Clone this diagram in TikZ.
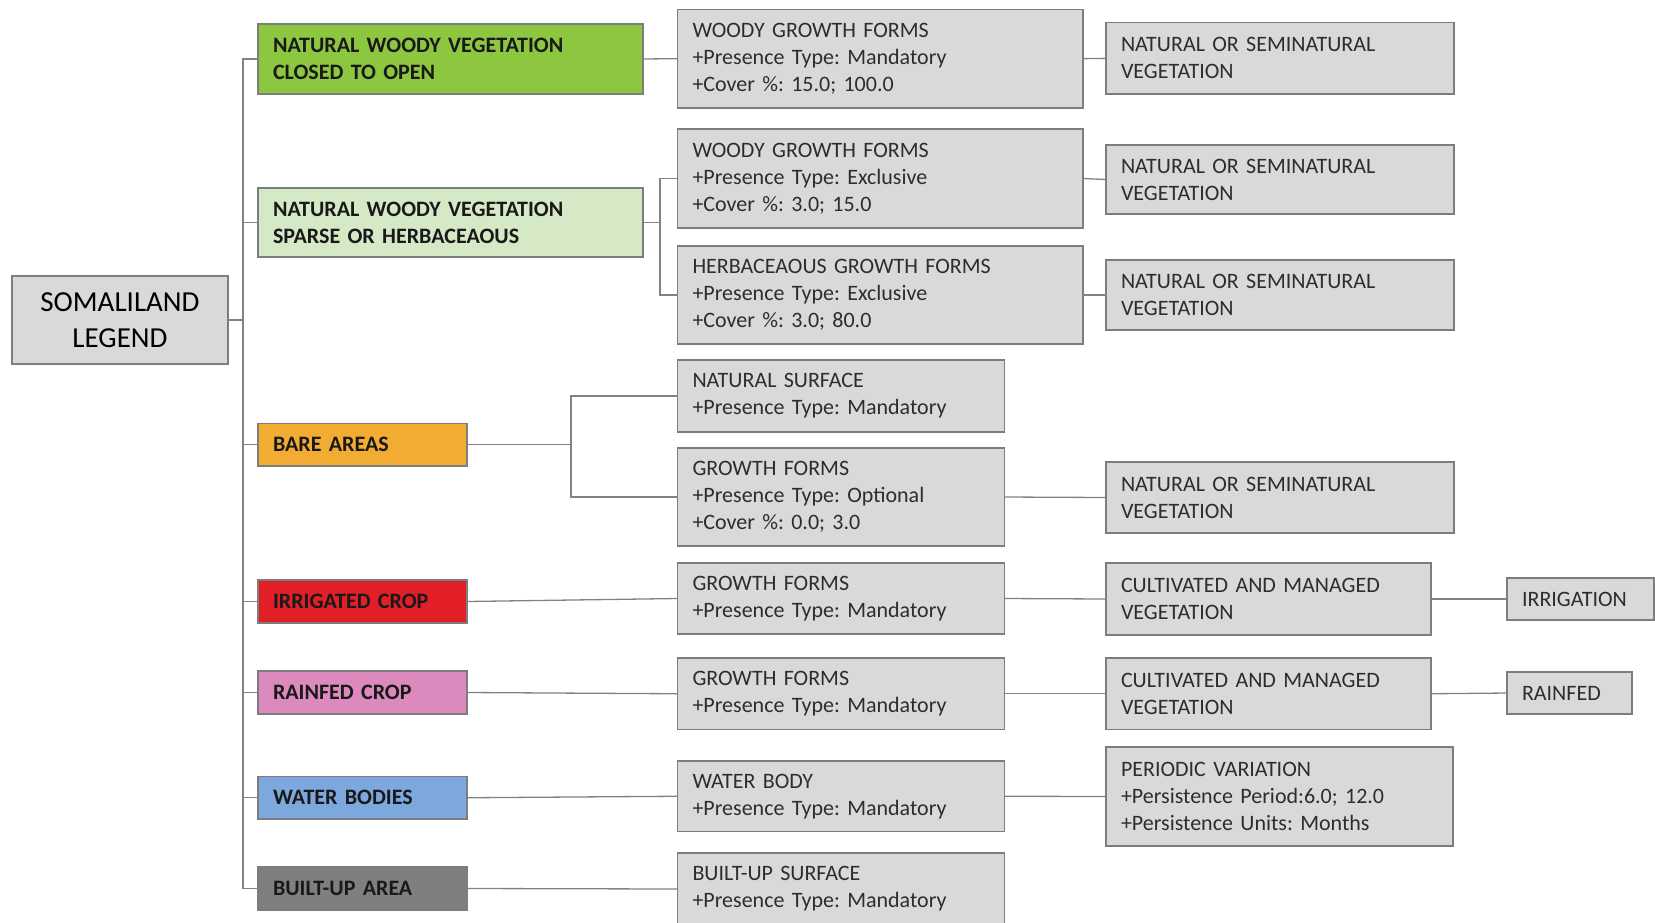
\documentclass[tikz,border=0pt]{standalone}
\usepackage{fontspec}
\setmainfont[WordSpace=0.65]{Carlito}
\frenchspacing
\definecolor{greenA}{RGB}{141,198,63}
\definecolor{greenB}{RGB}{214,233,198}
\definecolor{bareC}{RGB}{242,172,51}
\definecolor{irrC}{RGB}{226,30,38}
\definecolor{rainC}{RGB}{220,138,190}
\definecolor{waterC}{RGB}{125,168,222}
\definecolor{builtC}{RGB}{127,127,127}
\definecolor{boxgray}{RGB}{217,217,217}
\definecolor{edgegray}{RGB}{125,125,125}
\definecolor{linegray}{RGB}{130,130,130}
\definecolor{txtgray}{RGB}{45,45,45}
\tikzset{
  basebox/.style={draw=edgegray, line width=1.3pt, rectangle, inner xsep=15pt, inner ysep=0pt, outer sep=0pt, align=left},
  catbox/.style={basebox, text=black!90, font=\fontsize{22}{27}\selectfont\bfseries},
  infobox/.style={basebox, fill=boxgray, text=txtgray, font=\fontsize{22}{27}\selectfont},
  rootbox/.style={basebox, fill=boxgray, text=black, align=center, font=\fontsize{29}{36}\selectfont},
  link/.style={draw=linegray, line width=1.3pt},
}
\newcommand\mkbox[7]{%
  \pgfmathsetmacro\bxw{#4-#2}%
  \pgfmathsetmacro\bxh{#5-#3}%
  \pgfmathsetmacro\bxt{#4-#2-30}%
  \node[#6, anchor=north west, minimum width=\bxw pt, minimum height=\bxh pt, text width=\bxt pt] (#1) at (#2,#3) {#7};}
\begin{document}
\begin{tikzpicture}[x=1pt,y=-1pt]
\useasboundingbox (0,0) rectangle (1655,922);
\clip (0,0) rectangle (1655,922);
% root
\mkbox{root}{12}{276}{228}{364}{rootbox}{SOMALILAND\\LEGEND}
% categories
\mkbox{nwv1}{258}{24}{643}{94}{catbox, fill=greenA}{NATURAL WOODY VEGETATION\\CLOSED TO OPEN}
\mkbox{nwv2}{258}{188}{643}{257}{catbox, fill=greenB}{NATURAL WOODY VEGETATION\\SPARSE OR HERBACEAOUS}
\mkbox{bare}{258}{423.5}{467}{466}{catbox, fill=bareC}{BARE AREAS}
\mkbox{irr}{258}{580}{467}{623}{catbox, fill=irrC}{IRRIGATED CROP}
\mkbox{rain}{258}{671}{467}{714}{catbox, fill=rainC}{RAINFED CROP}
\mkbox{water}{258}{776.5}{467}{819}{catbox, fill=waterC}{WATER BODIES}
\mkbox{built}{258}{867}{467}{910}{catbox, fill=builtC}{BUILT-UP AREA}
% middle column
\mkbox{wgf1}{677.5}{9.3}{1083}{108}{infobox}{WOODY GROWTH FORMS\\+Presence Type: Mandatory\\+Cover \%: 15.0; 100.0}
\mkbox{wgf2}{677.5}{129}{1083}{228}{infobox}{WOODY GROWTH FORMS\\+Presence Type: Exclusive\\+Cover \%: 3.0; 15.0}
\mkbox{hgf}{677.5}{246}{1083}{344}{infobox}{HERBACEAOUS GROWTH FORMS\\+Presence Type: Exclusive\\+Cover \%: 3.0; 80.0}
\mkbox{ns}{677.5}{360}{1004.5}{432}{infobox}{NATURAL SURFACE\\+Presence Type: Mandatory}
\mkbox{gfb}{677.5}{448}{1004.5}{546}{infobox}{GROWTH FORMS\\+Presence Type: Optional\\+Cover \%: 0.0; 3.0}
\mkbox{gfi}{677.5}{563}{1004.5}{634}{infobox}{GROWTH FORMS\\+Presence Type: Mandatory}
\mkbox{gfr}{677.5}{658}{1004.5}{729.5}{infobox}{GROWTH FORMS\\+Presence Type: Mandatory}
\mkbox{wb}{677.5}{761}{1004.5}{831.5}{infobox}{WATER BODY\\+Presence Type: Mandatory}
\mkbox{bus}{677.5}{853}{1004.5}{925}{infobox}{BUILT-UP SURFACE\\+Presence Type: Mandatory}
% right column
\mkbox{nosv1}{1106}{22.7}{1454}{94}{infobox}{NATURAL OR SEMINATURAL\\VEGETATION}
\mkbox{nosv2}{1106}{145}{1454}{214}{infobox}{NATURAL OR SEMINATURAL\\VEGETATION}
\mkbox{nosv3}{1106}{260}{1454}{330}{infobox}{NATURAL OR SEMINATURAL\\VEGETATION}
\mkbox{nosv4}{1106}{462}{1454}{533}{infobox}{NATURAL OR SEMINATURAL\\VEGETATION}
\mkbox{camv1}{1106}{563}{1431}{635}{infobox}{CULTIVATED AND MANAGED\\VEGETATION}
\mkbox{camv2}{1106}{658}{1431}{729.5}{infobox}{CULTIVATED AND MANAGED\\VEGETATION}
\mkbox{pv}{1106}{747}{1453}{846}{infobox}{PERIODIC VARIATION\\+Persistence Period:6.0; 12.0\\+Persistence Units: Months}
% far right
\mkbox{irrig}{1507}{578}{1654}{620}{infobox}{IRRIGATION}
\mkbox{rainf}{1507}{672}{1632}{714}{infobox}{RAINFED}
% connectors
\coordinate (tr) at (243,0);
\coordinate (f2) at (660,0);
\coordinate (fb) at (571,0);
\draw[link] (root.east) -- (tr |- root.east);
\draw[link] (nwv1.west) -- (tr |- nwv1.west) -- (tr |- built.west) -- (built.west);
\foreach \c in {nwv2,bare,irr,rain,water}{\draw[link] (\c.west) -- (tr |- \c.west);}
\draw[link] (nwv1.east) -- (wgf1.west);
\draw[link] (wgf1.east) -- (nosv1.west);
\draw[link] (nwv2.east) -- (f2 |- nwv2.east);
\draw[link] (wgf2.west) -- (f2 |- wgf2.west) -- (f2 |- hgf.west) -- (hgf.west);
\draw[link] (wgf2.east) -- (nosv2.west);
\draw[link] (hgf.east) -- (nosv3.west);
\draw[link] (bare.east) -- (fb |- bare.east);
\draw[link] (ns.west) -- (fb |- ns.west) -- (fb |- gfb.west) -- (gfb.west);
\draw[link] (gfb.east) -- (nosv4.west);
\draw[link] (irr.east) -- (gfi.west);
\draw[link] (gfi.east) -- (camv1.west);
\draw[link] (camv1.east) -- (irrig.west);
\draw[link] (rain.east) -- (gfr.west);
\draw[link] (gfr.east) -- (camv2.west);
\draw[link] (camv2.east) -- (rainf.west);
\draw[link] (water.east) -- (wb.west);
\draw[link] (wb.east) -- (pv.west);
\draw[link] (built.east) -- (bus.west);
\end{tikzpicture}
\end{document}
